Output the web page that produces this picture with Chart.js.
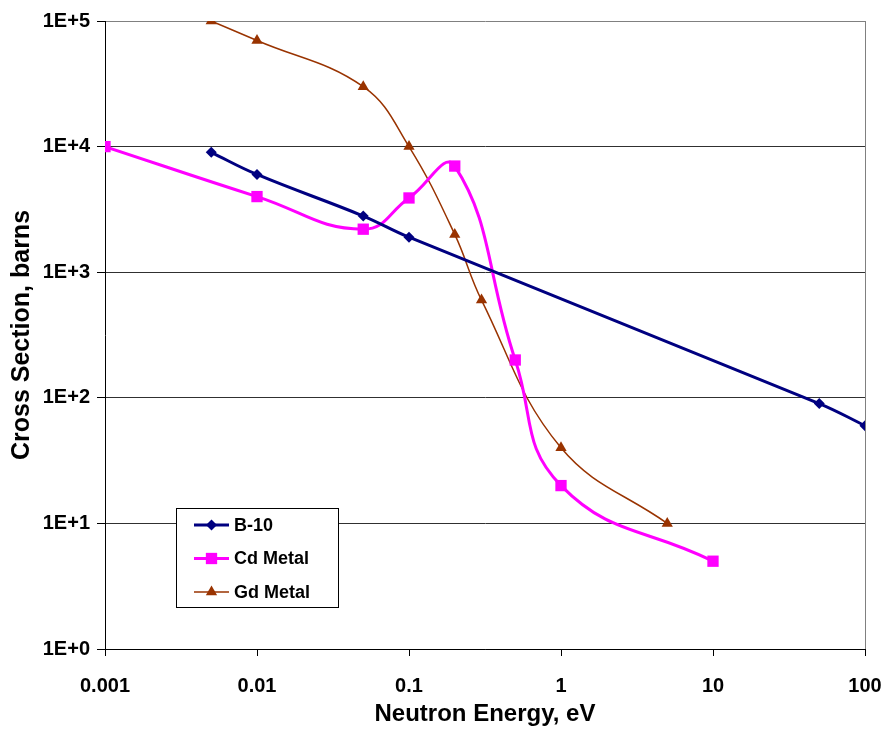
<!DOCTYPE html>
<html>
<head>
<meta charset="utf-8">
<script src="https://cdn.jsdelivr.net/npm/chart.js@4.4.0/dist/chart.umd.min.js"></script>
<style>
  html, body { margin: 0; padding: 0; background: #fff; }
  #wrap { width: 884px; height: 734px; }
</style>
</head>
<body>
<div id="wrap"><canvas id="xsChart" width="884" height="734"></canvas></div>
<script>
// neutron energy (eV) and cross section (barns)
var b10Energy = [0.005, 0.01, 0.05, 0.1, 50, 100];
var b10Sigma  = [9000, 6000, 2800, 1900, 90, 60];

var cdEnergy = [0.001, 0.01, 0.05, 0.1, 0.2, 0.5, 1, 10];
var cdSigma  = [10000, 4000, 2200, 3900, 7000, 200, 20, 5];

var gdEnergy = [0.005, 0.01, 0.05, 0.1, 0.2, 0.3, 1, 5];
var gdSigma  = [100000, 70000, 30000, 10000, 2000, 600, 40, 10];

var xTicks = [0.001, 0.01, 0.1, 1, 10, 100];
var yTicks = [1, 10, 100, 1000, 10000, 100000];

function pairs(xs, ys) {
  return xs.map(function(x, i) { return {x: x, y: ys[i]}; });
}

Chart.defaults.font.family = "'Liberation Sans', Arial, sans-serif";
Chart.defaults.color = "#000";

function drawMarker(ctx, ds, x, y) {
  var r = ds.pointRadius;
  ctx.save();
  ctx.fillStyle = ds.pointBackgroundColor;
  ctx.beginPath();
  if (ds.pointStyle === "rectRot") {
    ctx.moveTo(x - r, y); ctx.lineTo(x, y - r); ctx.lineTo(x + r, y); ctx.lineTo(x, y + r);
  } else if (ds.pointStyle === "rect") {
    var s = r * Math.SQRT1_2;
    ctx.rect(x - s, y - s, 2 * s, 2 * s);
  } else {
    ctx.moveTo(x, y - r);
    ctx.lineTo(x + r * Math.sin(2 * Math.PI / 3), y + r / 2);
    ctx.lineTo(x - r * Math.sin(2 * Math.PI / 3), y + r / 2);
  }
  ctx.closePath();
  ctx.fill();
  ctx.restore();
}

// legend box sitting inside the plot, plus the grey right-hand frame line
var boxLegend = {
  id: "boxLegend",
  afterDraw: function(chart) {
    var ctx = chart.ctx;
    var area = chart.chartArea;
    ctx.save();
    ctx.strokeStyle = "#808080";
    ctx.lineWidth = 1;
    ctx.beginPath();
    ctx.moveTo(Math.round(area.right) + 0.5, area.top);
    ctx.lineTo(Math.round(area.right) + 0.5, area.bottom);
    ctx.stroke();

    ctx.fillStyle = "#fff";
    ctx.fillRect(176, 508, 162, 99);
    ctx.strokeStyle = "#000";
    ctx.strokeRect(176.5, 508.5, 162, 99);

    chart.data.datasets.forEach(function(ds, i) {
      var y = 525 + i * 33.5;
      ctx.strokeStyle = ds.borderColor;
      ctx.lineWidth = ds.borderWidth;
      ctx.beginPath();
      ctx.moveTo(194, y);
      ctx.lineTo(229, y);
      ctx.stroke();
      drawMarker(ctx, ds, 211.5, y);
      ctx.fillStyle = "#000";
      ctx.font = "bold 18px 'Liberation Sans', Arial, sans-serif";
      ctx.textAlign = "left";
      ctx.textBaseline = "middle";
      ctx.fillText(ds.label, 234, y + 1);
    });
    ctx.restore();
  }
};

var ctx = document.getElementById("xsChart").getContext("2d");
var chart = new Chart(ctx, {
  type: "scatter",
  data: {
    datasets: [{
      label: "B-10",
      data: pairs(b10Energy, b10Sigma),
      showLine: true,
      borderColor: "#000080",
      backgroundColor: "#000080",
      borderWidth: 3,
      pointStyle: "rectRot",
      pointRadius: 5.5,
      pointBackgroundColor: "#000080",
      pointBorderColor: "#000080",
      pointBorderWidth: 0,
      tension: 0.4
    }, {
      label: "Cd Metal",
      data: pairs(cdEnergy, cdSigma),
      showLine: true,
      borderColor: "#ff00ff",
      backgroundColor: "#ff00ff",
      borderWidth: 3,
      pointStyle: "rect",
      pointRadius: 8,
      pointBackgroundColor: "#ff00ff",
      pointBorderColor: "#ff00ff",
      pointBorderWidth: 0,
      tension: 0.45
    }, {
      label: "Gd Metal",
      data: pairs(gdEnergy, gdSigma),
      showLine: true,
      borderColor: "#993300",
      backgroundColor: "#993300",
      borderWidth: 1.5,
      pointStyle: "triangle",
      pointRadius: 6.5,
      pointBackgroundColor: "#993300",
      pointBorderColor: "#993300",
      pointBorderWidth: 0,
      tension: 0.4
    }]
  },
  options: {
    responsive: false,
    animation: false,
    devicePixelRatio: 1,
    layout: { padding: { top: 21, right: 19, left: 0, bottom: 0 } },
    plugins: {
      legend: { display: false },
      tooltip: { enabled: false }
    },
    scales: {
      x: {
        type: "logarithmic",
        min: 0.001,
        max: 100,
        afterBuildTicks: function(scale) {
          scale.ticks = xTicks.map(function(v) { return {value: v}; });
        },
        afterFit: function(scale) {
          scale.height = 85;
          scale.paddingLeft = 0;
          scale.paddingRight = 0;
        },
        border: { display: true, color: "#000", width: 1 },
        grid: { drawOnChartArea: false, color: "#000", tickLength: 7 },
        ticks: {
          autoSkip: false,
          maxRotation: 0,
          padding: 18,
          font: { size: 20, weight: "bold" },
          callback: function(v) { return String(v); }
        },
        title: {
          display: true,
          text: "Neutron Energy, eV",
          font: { size: 24, weight: "bold" },
          padding: { top: 0, bottom: 5 }
        }
      },
      y: {
        type: "logarithmic",
        min: 1,
        max: 100000,
        afterBuildTicks: function(scale) {
          scale.ticks = yTicks.map(function(v) { return {value: v}; });
        },
        afterFit: function(scale) {
          scale.width = 105;
          scale.paddingTop = 0;
          scale.paddingBottom = 0;
        },
        border: { display: true, color: "#000", width: 1 },
        grid: {
          color: function(c) { return c.tick && c.tick.value === 100000 ? "#808080" : "#303030"; },
          tickColor: "#000",
          tickLength: 8
        },
        ticks: {
          autoSkip: false,
          padding: 7,
          font: { size: 20, weight: "bold" },
          callback: function(v) { return "1E+" + Math.round(Math.log10(v)); }
        },
        title: {
          display: true,
          text: "Cross Section, barns",
          font: { size: 25, weight: "bold" },
          padding: { top: 7, bottom: 0 }
        }
      }
    }
  },
  plugins: [boxLegend]
});
</script>
</body>
</html>
